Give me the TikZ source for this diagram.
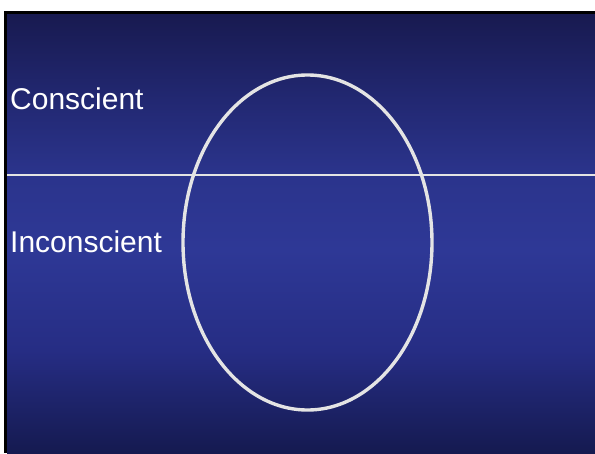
\documentclass[tikz,border=0pt]{standalone}
\usepackage{fontspec}
\setmainfont{Liberation Sans}
\usetikzlibrary{shapes.geometric}
\definecolor{bgA}{HTML}{181A50}
\definecolor{bgB}{HTML}{222872}
\definecolor{bgC}{HTML}{2B348C}
\definecolor{bgD}{HTML}{2E3896}
\definecolor{bgE}{HTML}{262D84}
\definecolor{bgF}{HTML}{151A50}
\definecolor{linegray}{HTML}{E4E4E4}
\pgfdeclareverticalshading{slidebg}{100bp}{
  color(0bp)=(bgF); color(25bp)=(bgF); color(36.7bp)=(bgE);
  color(48.1bp)=(bgD); color(56.7bp)=(bgC); color(65.2bp)=(bgB);
  color(75bp)=(bgA); color(100bp)=(bgA)}
\tikzset{
  lbl/.style={anchor=base west, text=white, font=\fontsize{30}{32}\selectfont, inner sep=0pt},
  wline/.style={draw=linegray, line width=2.8pt}
}
\begin{document}
\begin{tikzpicture}[x=1pt, y=-1pt]
\useasboundingbox (0,0) rectangle (595,453);
\fill[white] (0,0) rectangle (595,453);
\fill[black] (4,11) rectangle (595,453);
\shade[shading=slidebg] (7,14) rectangle (595,453);
\coordinate (L) at (7,175);
\coordinate (R) at (595,175);
\draw[wline] (L) -- (R);
\node[draw=linegray, line width=3.4pt, ellipse, minimum width=249pt, minimum height=335pt, inner sep=0pt] (ell) at (307.5,242.5) {};
\node[lbl] (c) at (10,109) {Conscient};
\node[lbl] (i) at (10,252.5) {Inconscient};
\end{tikzpicture}
\end{document}
